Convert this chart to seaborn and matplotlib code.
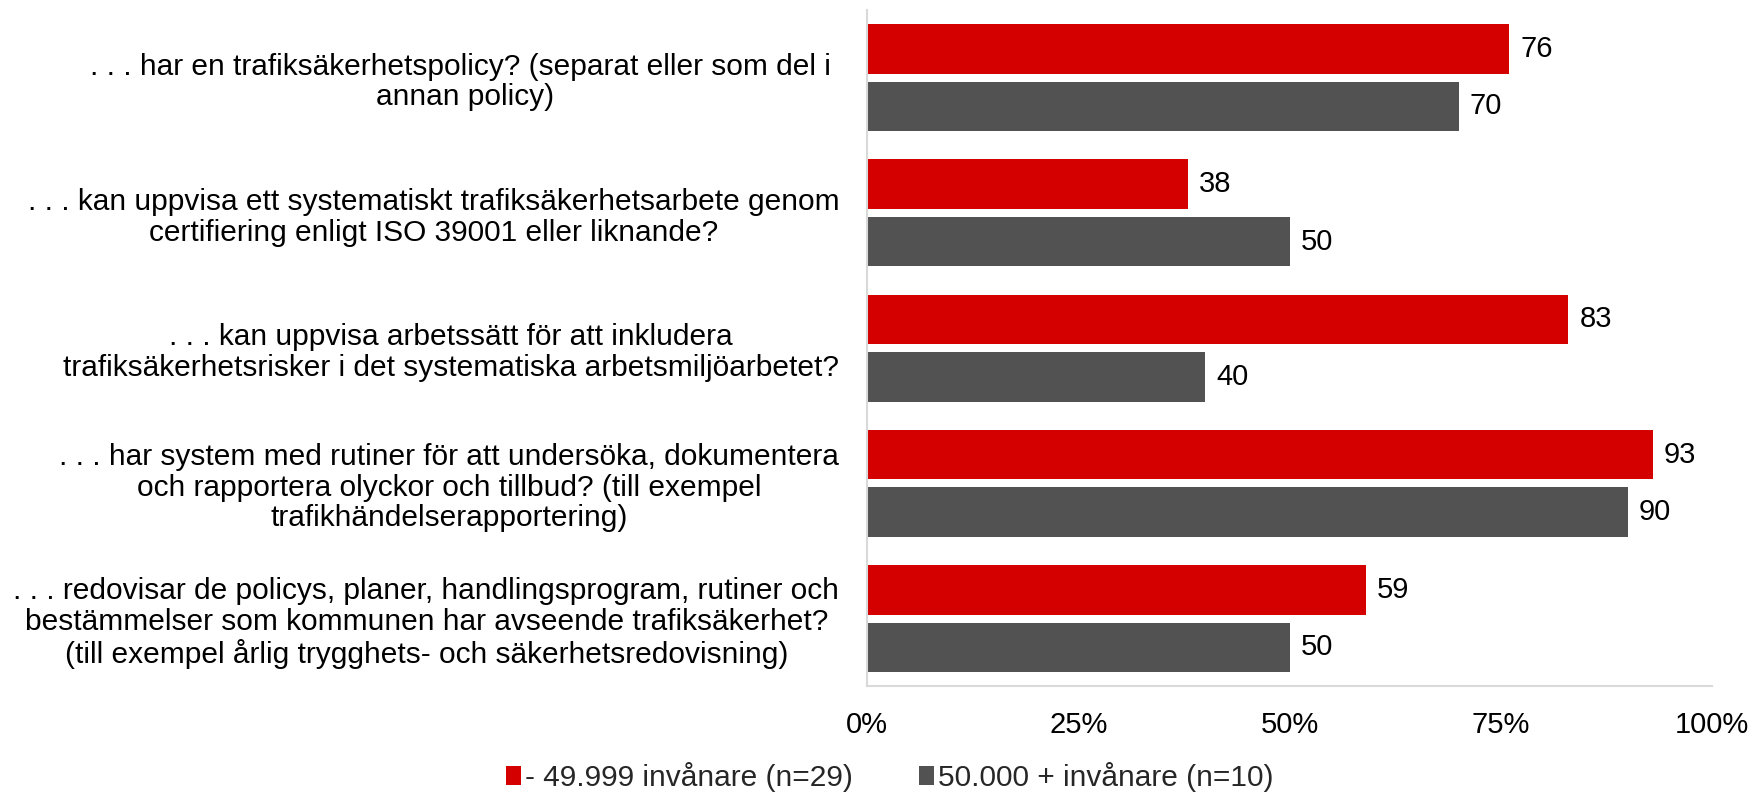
import matplotlib
matplotlib.use("Agg")
import matplotlib.pyplot as plt
import seaborn as sns
import pandas as pd
from matplotlib.patches import Patch
from matplotlib.ticker import FuncFormatter

categories = [
    ". . . har en trafiksäkerhetspolicy? (separat eller som del i \nannan policy)",
    ". . . kan uppvisa ett systematiskt trafiksäkerhetsarbete genom\ncertifiering enligt ISO 39001 eller liknande?",
    ". . . kan uppvisa arbetssätt för att inkludera\ntrafiksäkerhetsrisker i det systematiska arbetsmiljöarbetet?",
    ". . . har system med rutiner för att undersöka, dokumentera\noch rapportera olyckor och tillbud? (till exempel\ntrafikhändelserapportering)",
    ". . . redovisar de policys, planer, handlingsprogram, rutiner och\nbestämmelser som kommunen har avseende trafiksäkerhet?\n(till exempel årlig trygghets- och säkerhetsredovisning)",
]
series_names = ["- 49.999 invånare (n=29)", "50.000 + invånare (n=10)"]
small_values = [76, 38, 83, 93, 59]
large_values = [70, 50, 40, 90, 50]
x_ticks = [0, 25, 50, 75, 100]

colors = ["#d40000", "#525252"]

sns.set_theme(style="white")
plt.rcParams["font.family"] = ["Liberation Sans", "DejaVu Sans"]

df = pd.DataFrame({
    "cat": categories * 2,
    "val": small_values + large_values,
    "series": [series_names[0]] * 5 + [series_names[1]] * 5,
})

fig = plt.figure(figsize=(17.52, 7.96), dpi=100)
ax = fig.add_axes([0.4949, 0.138, 0.4823, 0.8494])

sns.barplot(data=df, y="cat", x="val", hue="series", orient="h",
            palette=colors, width=0.85, gap=0.14, ax=ax, legend=False,
            saturation=1, linewidth=0, errorbar=None)

for cont in ax.containers:
    ax.bar_label(cont, labels=[f"{v:.0f}" for v in cont.datavalues],
                 padding=8, fontsize=21, color="black")

ax.set_xlim(0, 100)
ax.set_ylim(4.5, -0.5)
ax.set_xticks(x_ticks)
ax.xaxis.set_major_formatter(FuncFormatter(lambda v, p: f"{v:.0f}%"))
ax.set_xlabel("")
ax.set_ylabel("")
ax.tick_params(axis="x", length=0, pad=18, labelsize=21, colors="black")
ax.tick_params(axis="y", length=0, pad=20, labelsize=21.5, colors="black")
for lbl in ax.get_yticklabels():
    lbl.set_multialignment("center")
    lbl.set_linespacing(1.12)

for s in ["top", "right"]:
    ax.spines[s].set_visible(False)
for s in ["left", "bottom"]:
    ax.spines[s].set_color("#d9d9d9")
    ax.spines[s].set_linewidth(1.5)

handles = [Patch(facecolor=c, edgecolor="none") for c in colors]
fig.legend(handles, series_names, loc="center", bbox_to_anchor=(0.508, 0.024),
           ncol=2, frameon=False, fontsize=21.5, handlelength=0.5, handleheight=0.6,
           handletextpad=0.15, columnspacing=2.2, borderpad=0, borderaxespad=0)

fig.savefig("out.png", dpi=100)
